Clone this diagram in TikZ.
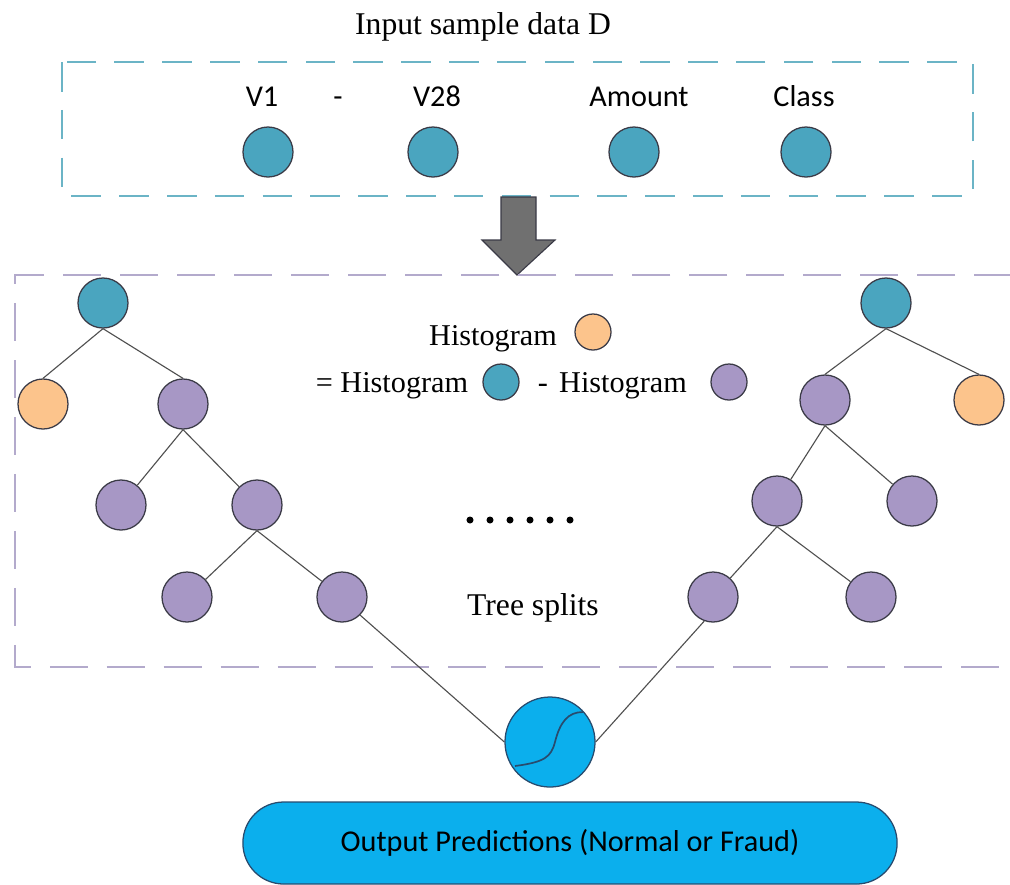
\documentclass[tikz,border=0pt]{standalone}
\usepackage{fontspec}
\setmainfont{Liberation Serif}
\newfontfamily\calibri{Carlito}

\definecolor{tealfill}{RGB}{74,165,191}
\definecolor{orangefill}{RGB}{252,196,140}
\definecolor{purplefill}{RGB}{167,151,197}
\definecolor{nodeline}{RGB}{58,58,70}
\definecolor{edgegray}{RGB}{80,80,80}
\definecolor{outblue}{RGB}{11,175,237}
\definecolor{outline}{RGB}{40,75,110}
\definecolor{topdash}{RGB}{107,180,198}
\definecolor{lowdash}{RGB}{179,170,204}
\definecolor{arrowgray}{RGB}{112,112,112}

\begin{document}
\begin{tikzpicture}[x=0.025cm,y=-0.025cm,
	feat node/.style={circle,draw=nodeline,line width=0.9pt,fill=tealfill,minimum size=1.25cm,inner sep=0pt},
	split node/.style={feat node,fill=purplefill},
	leaf node/.style={feat node,fill=orangefill},
	key node/.style={circle,draw=nodeline,line width=0.9pt,minimum size=0.9cm,inner sep=0pt},
	serif label/.style={font=\fontsize{21.5}{24}\selectfont,inner sep=0pt,anchor=base},
	big serif label/.style={serif label,font=\fontsize{22.5}{25}\selectfont},
	sans label/.style={font=\calibri\fontsize{21.5}{24}\selectfont,inner sep=0pt,anchor=base},
	edge/.style={draw=edgegray,line width=0.8pt}
]

	\useasboundingbox (0,0) rectangle (1010,884);

	% input data
	\draw[topdash,line width=1.6pt,dash pattern=on 21pt off 13pt] (62,62) rectangle (973,196);
	\node[big serif label] (title) at (483,34) {Input sample data D};

	\foreach \name/\x/\lx/\txt in {v1/268/262/V1, v28/433/437/V28, amt/634/639/Amount, cls/806/804/Class} {
		\node[feat node] (\name) at (\x,152) {};
		\node[sans label] (\name-lab) at (\lx,106) {\txt};
	}
	\node[sans label] (range) at (338,106) {-};

	\filldraw[fill=arrowgray,draw=nodeline,line width=0.8pt]
		(501,197) -- (536,197) -- (536,240) -- (555,240) -- (517,275) -- (482,240) -- (501,240) -- cycle;

	% boosting trees
	\draw[lowdash,line width=1.6pt,dash pattern=on 27pt off 13.5pt] (1012,275) -- (15,275) -- (15,667) -- (1012,667);

	\node[feat node] (L0) at (103,303) {};
	\node[leaf node] (L1) at (43,404) {};
	\node[split node] (L2) at (183,404) {};
	\node[split node] (L3) at (121,505) {};
	\node[split node] (L4) at (257,505) {};
	\node[split node] (L5) at (187,597) {};
	\node[split node] (L6) at (342,597) {};

	\node[feat node] (R0) at (886,303) {};
	\node[split node] (R1) at (825,400) {};
	\node[leaf node] (R2) at (979,400) {};
	\node[split node] (R3) at (777,501) {};
	\node[split node] (R4) at (912,501) {};
	\node[split node] (R5) at (713,597) {};
	\node[split node] (R6) at (871,597) {};

	\foreach \a/\b in {L0/L1, L0/L2, R0/R1, R0/R2}
		\draw[edge] (\a.south) -- (\b.north);
	\foreach \a/\b in {L2/L3, L2/L4, L4/L5, L4/L6, R1/R3, R1/R4, R3/R5, R3/R6}
		\draw[edge] (\a.south) -- (\b);

	% legend
	\node[serif label] (hist1) at (493,345) {Histogram};
	\node[key node,fill=orangefill] (k1) at (593,332) {};
	\node[serif label] (hist2) at (392,392) {= Histogram};
	\node[key node,fill=tealfill] (k2) at (501,382) {};
	\node[serif label] (minus) at (543,392) {-};
	\node[serif label] (hist3) at (623,392) {Histogram};
	\node[key node,fill=purplefill] (k3) at (729,382) {};

	\foreach \i in {0,...,5}
		\fill (470+20*\i,520) circle[radius=2.5pt];
	\node[big serif label] (splits) at (533,615) {Tree splits};

	% output
	\node[circle,draw=outline,fill=outblue,line width=0.9pt,minimum size=2.25cm,inner sep=0pt] (out) at (550,742) {};
	\draw[outline,line width=1.2pt] (515,766) .. controls (545,762) and (551,757) .. (555,742)
		.. controls (560,722) and (568,712) .. (583,712);
	\draw[edge] (L6.south east) -- (out.west);
	\draw[edge] (R5.-110) -- (out.east);

	\node[draw=outline,fill=outblue,line width=0.9pt,rounded corners=1.02cm,minimum width=16.35cm,minimum height=2.05cm,
		font=\calibri\fontsize{21.5}{24}\selectfont] (pred) at (570,843) {Output Predictions (Normal or Fraud)};
\end{tikzpicture}
\end{document}
